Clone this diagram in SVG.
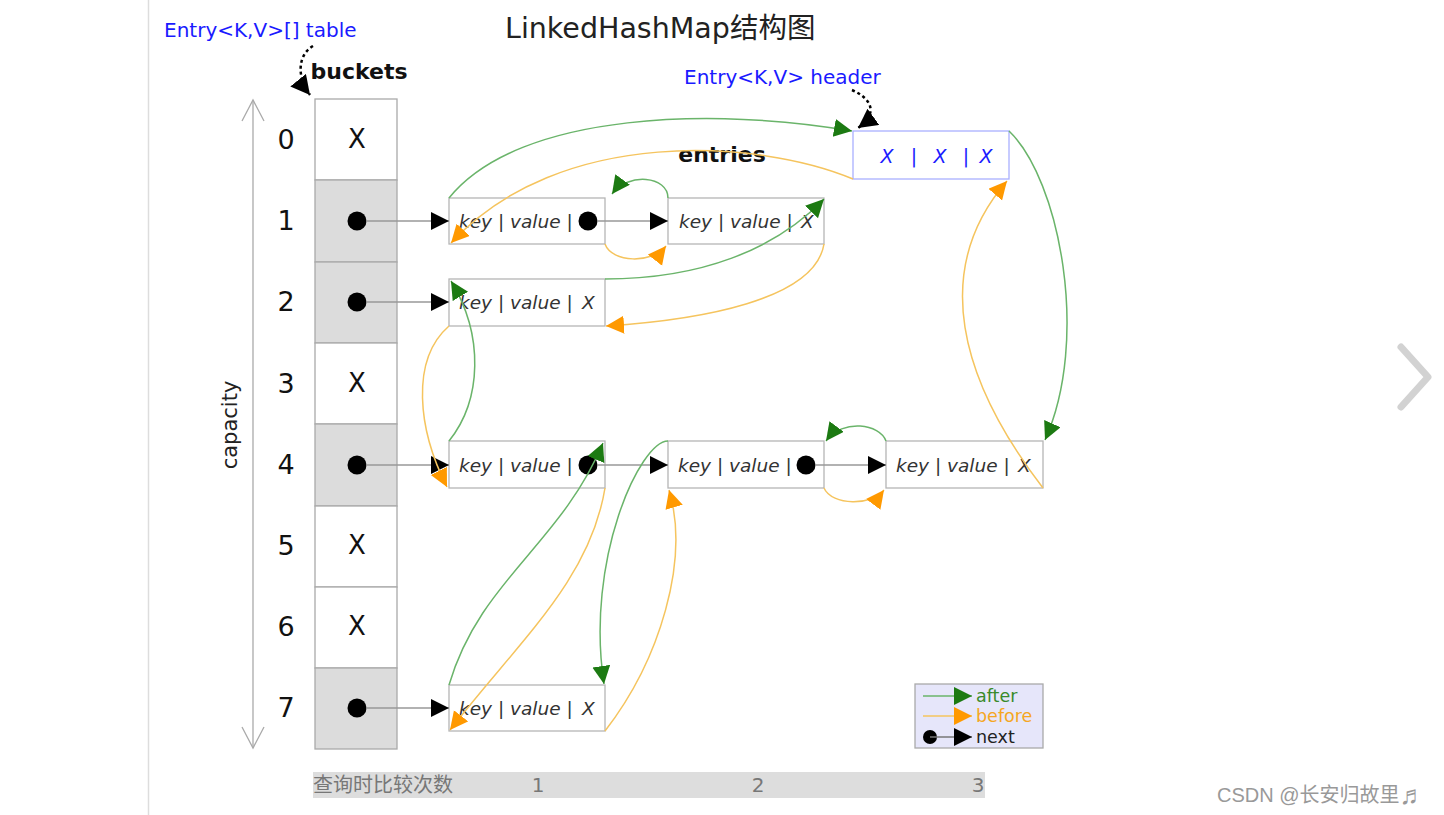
<svg xmlns="http://www.w3.org/2000/svg" width="1444" height="815" viewBox="0 0 1444 815">
<style>
text{font-family:"DejaVu Sans","Noto Sans CJK SC",sans-serif}
.cell{stroke:#aaa;stroke-width:1.3;fill:#fff}
.full{fill:#dcdcdc}
.idx{font-size:27px;fill:#111;text-anchor:middle;dominant-baseline:central}
.bx{font-size:26px;fill:#111;text-anchor:middle;dominant-baseline:central}
.ent{stroke:#b5b5b5;stroke-width:1.3;fill:#fff}
.et{font-size:18.5px;font-style:italic;fill:#333;dominant-baseline:central}
.dot{fill:#000}
.nx{stroke:#999;stroke-width:1.3;fill:none;marker-end:url(#mk)}
.af{stroke:#6ab46a;stroke-width:1.5;fill:none;marker-end:url(#mg)}
.bf{stroke:#f5c45e;stroke-width:1.5;fill:none;marker-end:url(#mo)}
.blue{fill:#1a1aff;font-size:20px}
</style>
<defs>
<marker id="mk" markerUnits="userSpaceOnUse" markerWidth="20" markerHeight="20" refX="18" refY="9" orient="auto"><path d="M0,0 L18,9 L0,18 Z" fill="#000"/></marker>
<marker id="mg" markerUnits="userSpaceOnUse" markerWidth="20" markerHeight="20" refX="18" refY="9" orient="auto"><path d="M0,0 L18,9 L0,18 Z" fill="#1c7a12"/></marker>
<marker id="mo" markerUnits="userSpaceOnUse" markerWidth="20" markerHeight="20" refX="18" refY="9" orient="auto"><path d="M0,0 L18,9 L0,18 Z" fill="#ff9900"/></marker>
<marker id="mkd" markerUnits="userSpaceOnUse" markerWidth="22" markerHeight="22" refX="19" refY="10" orient="auto"><path d="M0,0 L19,10 L0,20 Z" fill="#000"/></marker>
</defs>
<rect width="1444" height="815" fill="#fff"/>
<line x1="148.5" y1="0" x2="148.5" y2="815" stroke="#ddd" stroke-width="1.5"/>

<text x="505" y="28" font-size="28.5" fill="#222" dominant-baseline="central">LinkedHashMap结构图</text>
<text x="164" y="30" class="blue" dominant-baseline="central">Entry&lt;K,V&gt;[] table</text>
<path d="M313,46 C296,56 298,80 310,95" stroke="#000" stroke-width="2.5" stroke-dasharray="3,3" fill="none" marker-end="url(#mkd)"/>
<text x="359" y="71" font-size="22" font-weight="bold" fill="#111" text-anchor="middle" dominant-baseline="central">buckets</text>

<g id="capacity">
<line x1="253" y1="100" x2="253" y2="748" stroke="#aaa" stroke-width="1.3"/>
<path d="M242,121 L253,100 L264,121 M242,727 L253,748 L264,727" stroke="#aaa" stroke-width="1.3" fill="none"/>
<text transform="translate(230,425) rotate(-90)" font-size="21" fill="#222" text-anchor="middle" dominant-baseline="central">capacity</text>
</g>

<g id="buckets">
<rect class="cell" x="315" y="99" width="82" height="81"/>
<rect class="cell full" x="315" y="180" width="82" height="82"/>
<rect class="cell full" x="315" y="262" width="82" height="81"/>
<rect class="cell" x="315" y="343" width="82" height="81"/>
<rect class="cell full" x="315" y="424" width="82" height="82"/>
<rect class="cell" x="315" y="506" width="82" height="81"/>
<rect class="cell" x="315" y="587" width="82" height="81"/>
<rect class="cell full" x="315" y="668" width="82" height="81"/>
<text class="idx" x="286" y="139">0</text>
<text class="idx" x="286" y="220">1</text>
<text class="idx" x="286" y="301">2</text>
<text class="idx" x="286" y="383">3</text>
<text class="idx" x="286" y="464">4</text>
<text class="idx" x="286" y="545">5</text>
<text class="idx" x="286" y="626">6</text>
<text class="idx" x="286" y="707">7</text>
<text class="bx" x="357" y="139">X</text>
<text class="bx" x="357" y="383">X</text>
<text class="bx" x="357" y="545">X</text>
<text class="bx" x="357" y="626">X</text>
<circle class="dot" cx="357" cy="221" r="9.5"/>
<circle class="dot" cx="357" cy="302" r="9.5"/>
<circle class="dot" cx="357" cy="465" r="9.5"/>
<circle class="dot" cx="357" cy="708" r="9.5"/>
</g>

<text x="722" y="154" font-size="22" font-weight="bold" fill="#111" text-anchor="middle" dominant-baseline="central">entries</text>

<g id="header">
<text x="684" y="77" class="blue" dominant-baseline="central">Entry&lt;K,V&gt; header</text>
<rect x="853" y="131" width="156" height="48" fill="#fff" stroke="#aab0ff" stroke-width="1.3"/>
<text x="887" y="156" font-size="19" font-style="italic" fill="#1a1aff" text-anchor="middle" dominant-baseline="central">X</text>
<text x="914" y="156" font-size="19" fill="#1a1aff" text-anchor="middle" dominant-baseline="central">|</text>
<text x="940" y="156" font-size="19" font-style="italic" fill="#1a1aff" text-anchor="middle" dominant-baseline="central">X</text>
<text x="966" y="156" font-size="19" fill="#1a1aff" text-anchor="middle" dominant-baseline="central">|</text>
<text x="986" y="156" font-size="19" font-style="italic" fill="#1a1aff" text-anchor="middle" dominant-baseline="central">X</text>
<path d="M852,90 C870,98 880,112 858,128" stroke="#000" stroke-width="2.5" stroke-dasharray="3,3" fill="none" marker-end="url(#mkd)"/>
</g>

<g id="entryA">
<rect class="ent" x="449" y="198" width="156" height="46"/>
<text class="et" x="459" y="221">key | value |</text>
<circle class="dot" cx="588" cy="221" r="9.5"/>
</g>
<g id="entryB">
<rect class="ent" x="668" y="198" width="156" height="46"/>
<text class="et" x="679" y="221">key | value |</text>
<text class="et" x="801" y="221">X</text>
</g>
<g id="entryC">
<rect class="ent" x="449" y="279" width="156" height="47"/>
<text class="et" x="459" y="302">key | value |</text>
<text class="et" x="582" y="302">X</text>
</g>
<g id="entryD">
<rect class="ent" x="449" y="441" width="156" height="47"/>
<text class="et" x="459" y="465">key | value |</text>
<circle class="dot" cx="588" cy="465" r="9.5"/>
</g>
<g id="entryE">
<rect class="ent" x="668" y="441" width="156" height="47"/>
<text class="et" x="678" y="465">key | value |</text>
<circle class="dot" cx="806" cy="465" r="9.5"/>
</g>
<g id="entryF">
<rect class="ent" x="886" y="441" width="157" height="47"/>
<text class="et" x="896" y="465">key | value |</text>
<text class="et" x="1018" y="465">X</text>
</g>
<g id="entryG">
<rect class="ent" x="449" y="685" width="156" height="46"/>
<text class="et" x="459" y="708">key | value |</text>
<text class="et" x="582" y="708">X</text>
</g>

<g id="connectors">
<path class="nx" d="M366,221 L449,221"/>
<path class="nx" d="M366,302 L449,302"/>
<path class="nx" d="M366,465 L449,465"/>
<path class="nx" d="M366,708 L449,708"/>
<path class="nx" d="M597,221 L668,221"/>
<path class="nx" d="M597,465 L668,465"/>
<path class="nx" d="M815,465 L886,465"/>

<path class="af" d="M449,198 C520,110 720,108 852,131"/>
<path class="af" d="M668,198 C668,176 628,172 612,194"/>
<path class="af" d="M605,279 C700,279 775,250 824,199"/>
<path class="af" d="M449,441 C482,400 484,335 451,281"/>
<path class="af" d="M449,685 C480,580 560,545 603,443"/>
<path class="af" d="M668,441 C640,441 585,560 604,684"/>
<path class="af" d="M886,441 C880,424 843,418 826,441"/>
<path class="af" d="M1009,131 C1060,180 1090,340 1045,440"/>

<path class="bf" d="M853,179 C760,140 560,125 451,243"/>
<path class="bf" d="M605,244 C612,263 652,264 666,246"/>
<path class="bf" d="M824,244 C815,300 700,320 606,326"/>
<path class="bf" d="M449,326 C410,360 418,430 447,487"/>
<path class="bf" d="M605,488 C590,580 520,640 450,730"/>
<path class="bf" d="M605,731 C660,660 690,560 669,490"/>
<path class="bf" d="M824,488 C832,506 872,506 884,490"/>
<path class="bf" d="M1043,488 C960,380 930,270 1007,181"/>
</g>

<g id="legend">
<rect x="915" y="684" width="128" height="64" fill="#e6e6fa" stroke="#aaa" stroke-width="1.3"/>
<path d="M923,696 L972,696" stroke="#6ab46a" stroke-width="1.3" fill="none" marker-end="url(#mg)"/>
<path d="M923,716 L972,716" stroke="#f5c45e" stroke-width="1.3" fill="none" marker-end="url(#mo)"/>
<circle cx="930" cy="737" r="7" fill="#000"/>
<path d="M930,737 L972,737" stroke="#777" stroke-width="1.3" fill="none" marker-end="url(#mk)"/>
<text x="976" y="696" font-size="17.5" fill="#3a8a2a" dominant-baseline="central">after</text>
<text x="976" y="716" font-size="17.5" fill="#f5a623" dominant-baseline="central">before</text>
<text x="976" y="737" font-size="17.5" fill="#222" dominant-baseline="central">next</text>
</g>

<g id="compare-bar">
<rect x="313" y="772" width="672" height="26" fill="#dddddd"/>
<text x="313" y="785" font-size="20" fill="#777" dominant-baseline="central">查询时比较次数</text>
<text x="538" y="785" font-size="20" fill="#777" text-anchor="middle" dominant-baseline="central">1</text>
<text x="758" y="785" font-size="20" fill="#777" text-anchor="middle" dominant-baseline="central">2</text>
<text x="978" y="785" font-size="20" fill="#777" text-anchor="middle" dominant-baseline="central">3</text>
</g>

<text x="1217" y="795" font-size="20" fill="#999" dominant-baseline="central" style="font-family:'Liberation Sans','Noto Sans CJK SC',sans-serif">CSDN @长安归故里<tspan font-size="26">♬</tspan></text>
<path d="M1401,347 L1428,377 L1401,407" stroke="#d2d2d2" stroke-width="7" stroke-linecap="round" stroke-linejoin="round" fill="none"/>
</svg>
